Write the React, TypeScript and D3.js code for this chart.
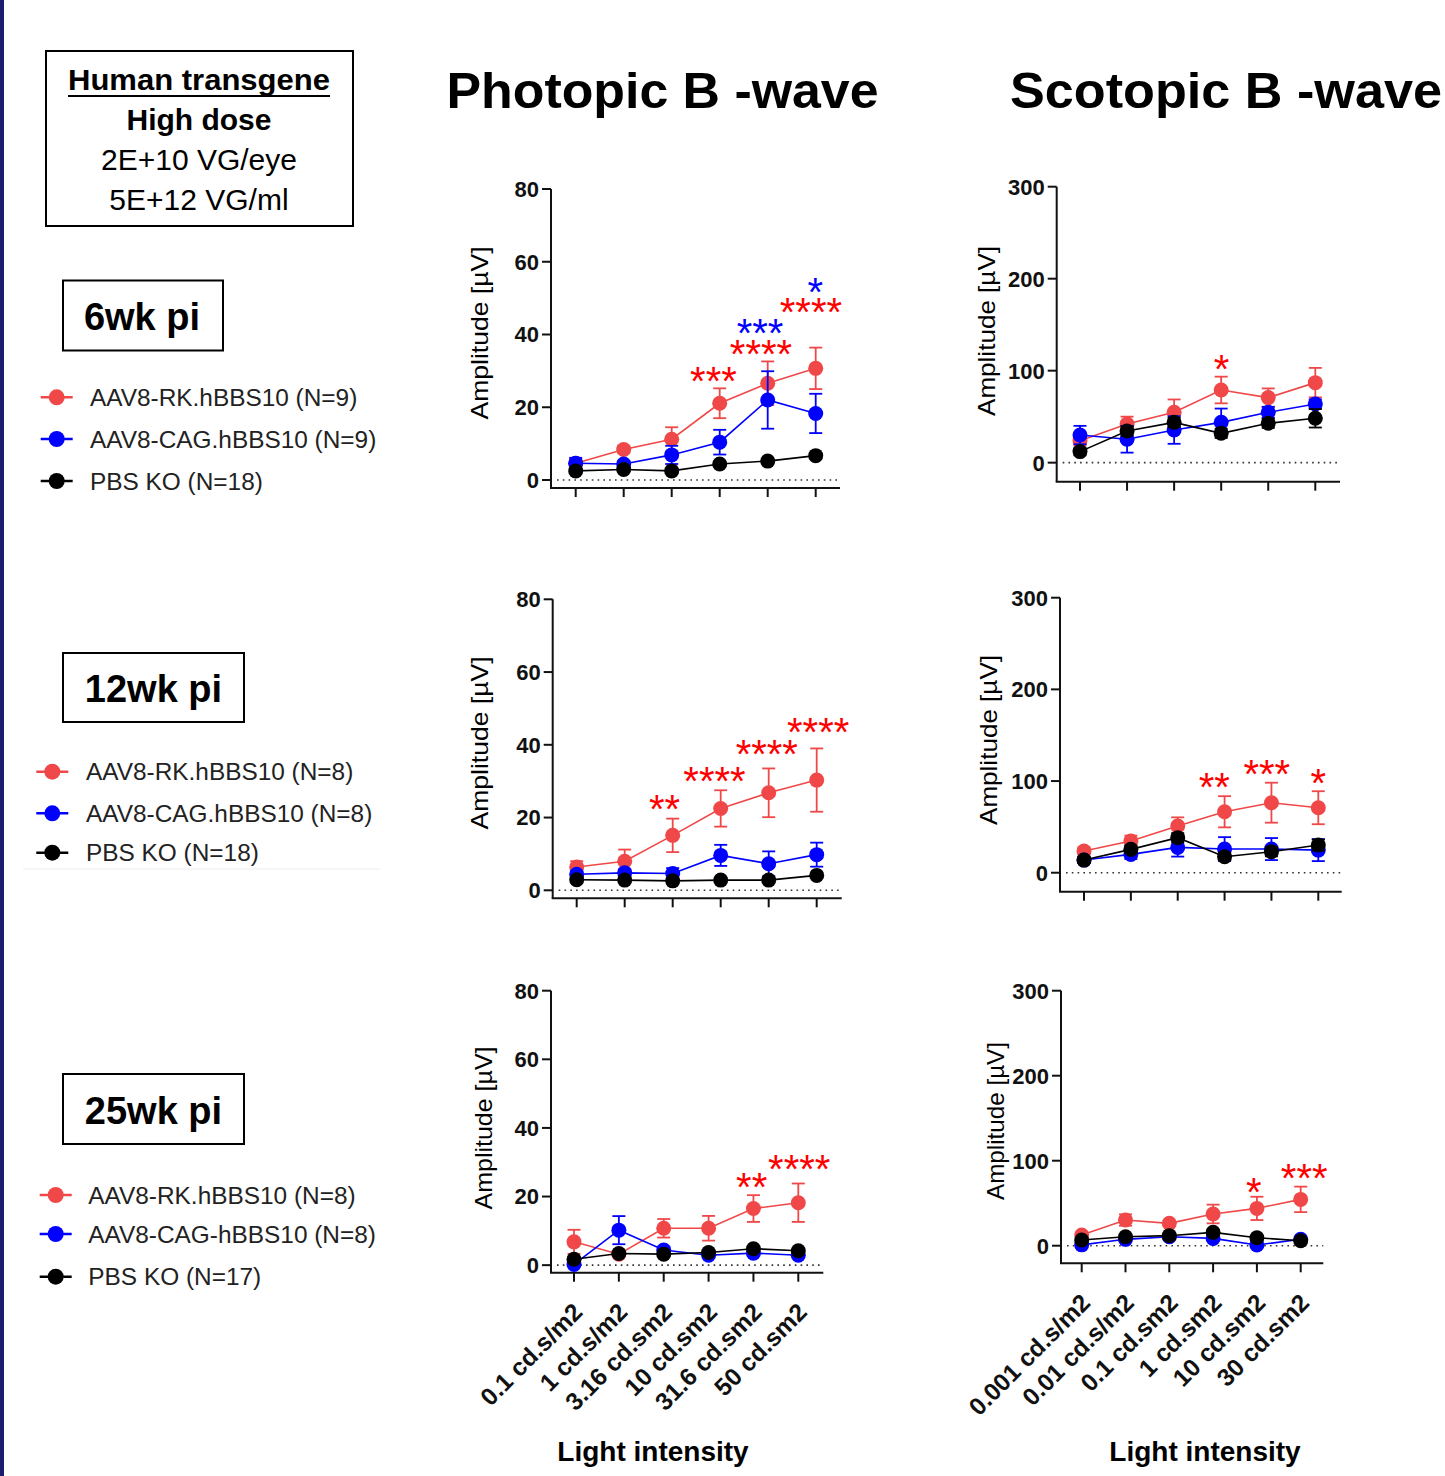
import React from 'react';
import * as d3 from 'd3';

// ---------- categories / ticks ----------
const photopicLabels = ['0.1 cd.s/m2', '1 cd.s/m2', '3.16 cd.sm2', '10 cd.sm2', '31.6 cd.sm2', '50 cd.sm2'];
const scotopicLabels = ['0.001 cd.s/m2', '0.01 cd.s/m2', '0.1 cd.sm2', '1 cd.sm2', '10 cd.sm2', '30 cd.sm2'];
const photopicTicks = [0, 20, 40, 60, 80];
const scotopicTicks = [0, 100, 200, 300];
const photopicDomain = [-2.2, 80];
const scotopicDomain = [-20.7, 300];

const legend6 = ['AAV8-RK.hBBS10 (N=9)', 'AAV8-CAG.hBBS10 (N=9)', 'PBS KO (N=18)'];
const legend12 = ['AAV8-RK.hBBS10 (N=8)', 'AAV8-CAG.hBBS10 (N=8)', 'PBS KO (N=18)'];
const legend25 = ['AAV8-RK.hBBS10 (N=8)', 'AAV8-CAG-hBBS10 (N=8)', 'PBS KO (N=17)'];

// ---------- 6wk ----------
const ph6Rk = [4.6, 8.4, 11.2, 21.1, 26.6, 30.7];
const ph6RkErr = [1.2, 1.0, 3.3, 4.1, 6.0, 5.7];
const ph6Cag = [4.6, 4.4, 6.9, 10.4, 22.0, 18.3];
const ph6CagErr = [1.5, 0.8, 2.5, 3.4, 7.9, 5.4];
const ph6Ko = [2.5, 2.9, 2.5, 4.4, 5.2, 6.7];
const ph6KoErr = [0.5, 0.5, 0.5, 0.5, 0.5, 0.6];

const sc6Rk = [23.9, 42, 54.7, 79, 70.7, 87];
const sc6RkErr = [5, 8, 14, 14.5, 10, 16];
const sc6Cag = [30, 25.4, 35.5, 43.8, 54.7, 63.8];
const sc6CagErr = [10, 14.5, 15, 15, 6, 5];
const sc6Ko = [12, 34.4, 43.8, 31.9, 42.8, 48.2];
const sc6KoErr = [4, 5, 5, 5, 5, 10];

// ---------- 12wk ----------
const ph12Rk = [6.4, 8.0, 15.1, 22.5, 26.8, 30.3];
const ph12RkErr = [1.6, 3.2, 4.6, 5.0, 6.7, 8.7];
const ph12Cag = [4.4, 4.8, 4.6, 9.6, 7.3, 9.8];
const ph12CagErr = [0.8, 1.0, 1.5, 2.9, 3.4, 3.3];
const ph12Ko = [2.9, 2.8, 2.6, 2.8, 2.8, 4.1];
const ph12KoErr = [0.4, 0.4, 0.4, 0.4, 0.4, 0.6];

const sc12Rk = [23.6, 34.5, 50.9, 66.5, 76.4, 70.9];
const sc12RkErr = [4, 6, 9.5, 17, 21.8, 18];
const sc12Cag = [13.8, 20, 27.6, 25.8, 25.8, 24.7];
const sc12CagErr = [3, 5, 10, 13, 12, 12];
const sc12Ko = [13.8, 25.5, 38.2, 17.5, 22.9, 30.2];
const sc12KoErr = [3, 4, 5, 4, 5, 6];

// ---------- 25wk ----------
const ph25Rk = [6.8, 3.2, 10.75, 10.75, 16.5, 18.2];
const ph25RkErr = [3.5, 0.6, 2.7, 3.6, 3.9, 5.6];
const ph25Cag = [0.2, 10.2, 4.4, 2.9, 3.5, 2.9];
const ph25CagErr = [0.5, 4.1, 1.0, 0.5, 0.5, 0.5];
const ph25Ko = [1.7, 3.4, 3.2, 3.7, 4.8, 4.2];
const ph25KoErr = [0.5, 0.4, 0.4, 0.5, 0.6, 0.5];

const sc25Rk = [12.5, 30.2, 26.3, 37.3, 43.9, 54.5];
const sc25RkErr = [3, 6.7, 3, 11, 13.7, 15];
const sc25Cag = [1, 7.5, 10.6, 8.6, 0.8, 7.5];
const sc25CagErr = [1, 2, 2, 2, 1, 2];
const sc25Ko = [6.7, 10.6, 11.8, 15.7, 9.4, 5.9];
const sc25KoErr = [2, 2, 2, 3, 2, 2];

// ---------- significance annotations (category index, amplitude) ----------
const ph6Stars = [
  { text: '***', group: 'rk', at: 2.87, value: 29.8 },
  { text: '****', group: 'rk', at: 3.86, value: 37.1 },
  { text: '***', group: 'cag', at: 3.84, value: 42.9 },
  { text: '****', group: 'rk', at: 4.9, value: 48.7 },
  { text: '*', group: 'cag', at: 4.99, value: 54.2 },
];
const sc6Stars = [{ text: '*', group: 'rk', at: 3.01, value: 111.6 }];
const ph12Stars = [
  { text: '**', group: 'rk', at: 1.83, value: 24.8 },
  { text: '****', group: 'rk', at: 2.87, value: 32.6 },
  { text: '****', group: 'rk', at: 3.96, value: 39.9 },
  { text: '****', group: 'rk', at: 5.03, value: 46.1 },
];
const sc12Stars = [
  { text: '**', group: 'rk', at: 2.78, value: 103 },
  { text: '***', group: 'rk', at: 3.9, value: 117.5 },
  { text: '*', group: 'rk', at: 5.0, value: 107.3 },
];
const ph25Stars = [
  { text: '**', group: 'rk', at: 3.96, value: 25.5 },
  { text: '****', group: 'rk', at: 5.02, value: 30.6 },
];
const sc25Stars = [
  { text: '*', group: 'rk', at: 3.93, value: 73.4 },
  { text: '***', group: 'rk', at: 5.08, value: 89.9 },
];

// ---------- styles ----------
const FONT = 'Liberation Sans, Arial, Helvetica, sans-serif';
const COLORS = { rk: '#f04848', cag: '#0000ff', ko: '#000000' };
const STAR_COLORS = { rk: '#ff0000', cag: '#0000ff' };

type Series = { key: 'rk' | 'cag' | 'ko'; values: number[]; errors: number[] };
type Star = { text: string; group: string; at: number; value: number };

type Frame = {
  axisX: number; yTop: number; yBot: number; xFirst: number; xLast: number; xEnd: number;
  labelX: number; labelY: number; labelLen: number;
};

function Panel({ frame, domain, ticks, series, stars, labels }: {
  frame: Frame; domain: number[]; ticks: number[]; series: Series[]; stars: Star[]; labels?: string[];
}) {
  const y = d3.scaleLinear().domain(domain).range([frame.yBot, frame.yTop]);
  const x = d3.scaleLinear().domain([0, 5]).range([frame.xFirst, frame.xLast]);
  const idx = d3.range(6);
  const line = d3.line<number>().x((_, i) => x(i)).y((d) => y(d));
  return (
    <g fontFamily={FONT}>
      {/* zero dotted line */}
      <line x1={frame.axisX + 6} x2={frame.xEnd} y1={y(0)} y2={y(0)} stroke="#333" strokeWidth={1.6} strokeDasharray="1.6,4.2" />
      {/* y axis */}
      <line x1={frame.axisX} x2={frame.axisX} y1={frame.yTop} y2={frame.yBot} stroke="#111" strokeWidth={2} />
      {ticks.map((t) => (
        <g key={t}>
          <line x1={frame.axisX - 9} x2={frame.axisX} y1={y(t)} y2={y(t)} stroke="#111" strokeWidth={2} />
          <text x={frame.axisX - 12} y={y(t)} dy="0.36em" textAnchor="end" fontSize={22} fontWeight="bold" fill="#111">{t}</text>
        </g>
      ))}
      {/* x axis */}
      <line x1={frame.axisX - 1} x2={frame.xEnd} y1={frame.yBot} y2={frame.yBot} stroke="#111" strokeWidth={2} />
      {idx.map((i) => (
        <line key={i} x1={x(i)} x2={x(i)} y1={frame.yBot} y2={frame.yBot + 9} stroke="#111" strokeWidth={2} />
      ))}
      {labels && labels.map((l, i) => (
        <text key={l} transform={`translate(${x(i) + 4},${frame.yBot + 35}) rotate(-45)`} textAnchor="end"
          dominantBaseline="central" fontSize={24.5} fontWeight="bold" fill="#111">{l}</text>
      ))}
      {/* y label */}
      <text transform={`translate(${frame.labelX + 7},${frame.labelY}) rotate(-90)`} textAnchor="middle"
        fontSize={24} fill="#000" textLength={frame.labelLen} lengthAdjust="spacingAndGlyphs">Amplitude [µV]</text>
      {/* series */}
      {series.map((s) => (
        <g key={s.key}>
          <path d={line(s.values) || ''} fill="none" stroke={COLORS[s.key]} strokeWidth={1.6} />
          {s.values.map((v, i) => {
            const e = s.errors[i];
            return (
              <g key={i} stroke={COLORS[s.key]} strokeWidth={1.8}>
                <line x1={x(i)} x2={x(i)} y1={y(v - e)} y2={y(v + e)} />
                <line x1={x(i) - 6.5} x2={x(i) + 6.5} y1={y(v + e)} y2={y(v + e)} />
                <line x1={x(i) - 6.5} x2={x(i) + 6.5} y1={y(v - e)} y2={y(v - e)} />
              </g>
            );
          })}
          {s.values.map((v, i) => (
            <circle key={'c' + i} cx={x(i)} cy={y(v)} r={7.5} fill={COLORS[s.key]} />
          ))}
        </g>
      ))}
      {/* stars */}
      {stars.map((s, i) => (
        <text key={i} x={x(s.at)} y={y(s.value) + 23} textAnchor="middle" fontSize={40}
          fill={STAR_COLORS[s.group as 'rk' | 'cag']}>{s.text}</text>
      ))}
    </g>
  );
}

function Legend({ labels, mx, tx, rows }: { labels: string[]; mx: number; tx: number; rows: number[] }) {
  const keys: ('rk' | 'cag' | 'ko')[] = ['rk', 'cag', 'ko'];
  return (
    <g fontFamily={FONT}>
      {labels.map((l, i) => (
        <g key={l}>
          <line x1={mx - 16} x2={mx + 16} y1={rows[i]} y2={rows[i]} stroke={COLORS[keys[i]]} strokeWidth={2.5} />
          <circle cx={mx} cy={rows[i]} r={8} fill={COLORS[keys[i]]} />
          <text x={tx} y={rows[i]} dy="0.36em" fontSize={24.4} fill="#222">{l}</text>
        </g>
      ))}
    </g>
  );
}

function mk(rk: number[], rkE: number[], cag: number[], cagE: number[], ko: number[], koE: number[]): Series[] {
  return [
    { key: 'rk', values: rk, errors: rkE },
    { key: 'cag', values: cag, errors: cagE },
    { key: 'ko', values: ko, errors: koE },
  ];
}

export default function App() {
  return (
    <div style={{ position: 'absolute', left: 0, top: 0 }}>
      <svg width={1445} height={1476} viewBox="0 0 1445 1476" style={{ display: 'block', background: '#fff' }}>
        <rect x={0} y={0} width={1445} height={1476} fill="#fff" />
        <rect x={0} y={0} width={4} height={1476} fill="#1c1c6c" />

        {/* header box */}
        <g fontFamily={FONT} fill="#000">
          <rect x={46} y={51} width={307} height={175} fill="none" stroke="#000" strokeWidth={2} />
          <text x={199} y={90} textAnchor="middle" fontSize={30} fontWeight="bold" textLength={262} lengthAdjust="spacingAndGlyphs">Human transgene</text>
          <line x1={68} x2={330} y1={96} y2={96} stroke="#000" strokeWidth={2} />
          <text x={199} y={129.5} textAnchor="middle" fontSize={30} fontWeight="bold">High dose</text>
          <text x={199} y={169.5} textAnchor="middle" fontSize={30}>2E+10 VG/eye</text>
          <text x={199} y={209.5} textAnchor="middle" fontSize={30}>5E+12 VG/ml</text>

          <rect x={63} y={280.5} width={160} height={70} fill="none" stroke="#000" strokeWidth={2} />
          <text x={142} y={330} textAnchor="middle" fontSize={38} fontWeight="bold">6wk pi</text>

          <rect x={63} y={653} width={181} height={69} fill="none" stroke="#000" strokeWidth={2} />
          <text x={153.5} y={701.5} textAnchor="middle" fontSize={38} fontWeight="bold">12wk pi</text>

          <rect x={63} y={1074} width={181} height={70} fill="none" stroke="#000" strokeWidth={2} />
          <text x={153.5} y={1123.5} textAnchor="middle" fontSize={38} fontWeight="bold">25wk pi</text>
        </g>

        <Legend labels={legend6} mx={56.7} tx={90} rows={[397.3, 439, 481]} />
        <Legend labels={legend12} mx={52.3} tx={86} rows={[771.7, 813.3, 852.7]} />
        <line x1={23} x2={380} y1={869} y2={869} stroke="#eeeeee" strokeWidth={1} />
        <Legend labels={legend25} mx={55.7} tx={88.3} rows={[1195, 1234, 1276.7]} />

        {/* titles */}
        <g fontFamily={FONT} fontWeight="bold" fill="#000">
          <text x={662.5} y={108} textAnchor="middle" fontSize={50} textLength={432} lengthAdjust="spacingAndGlyphs">Photopic B -wave</text>
          <text x={1226} y={108} textAnchor="middle" fontSize={50} textLength={432} lengthAdjust="spacingAndGlyphs">Scotopic B -wave</text>
          <text x={653} y={1461} textAnchor="middle" fontSize={28}>Light intensity</text>
          <text x={1205} y={1461} textAnchor="middle" fontSize={28}>Light intensity</text>
        </g>

        <Panel frame={{ axisX: 551, yTop: 189, yBot: 488, xFirst: 575.7, xLast: 815.7, xEnd: 840, labelX: 480.7, labelY: 333, labelLen: 173 }}
          domain={photopicDomain} ticks={photopicTicks}
          series={mk(ph6Rk, ph6RkErr, ph6Cag, ph6CagErr, ph6Ko, ph6KoErr)} stars={ph6Stars} />
        <Panel frame={{ axisX: 1056.7, yTop: 186.7, yBot: 481.7, xFirst: 1080, xLast: 1315.3, xEnd: 1340, labelX: 988, labelY: 331, labelLen: 170 }}
          domain={scotopicDomain} ticks={scotopicTicks}
          series={mk(sc6Rk, sc6RkErr, sc6Cag, sc6CagErr, sc6Ko, sc6KoErr)} stars={sc6Stars} />
        <Panel frame={{ axisX: 552.7, yTop: 599.3, yBot: 898.3, xFirst: 576.7, xLast: 816.7, xEnd: 841.7, labelX: 480.7, labelY: 743, labelLen: 173 }}
          domain={photopicDomain} ticks={photopicTicks}
          series={mk(ph12Rk, ph12RkErr, ph12Cag, ph12CagErr, ph12Ko, ph12KoErr)} stars={ph12Stars} />
        <Panel frame={{ axisX: 1060, yTop: 597.7, yBot: 891.7, xFirst: 1084, xLast: 1318.3, xEnd: 1341.7, labelX: 990, labelY: 740, labelLen: 170 }}
          domain={scotopicDomain} ticks={scotopicTicks}
          series={mk(sc12Rk, sc12RkErr, sc12Cag, sc12CagErr, sc12Ko, sc12KoErr)} stars={sc12Stars} />
        <Panel frame={{ axisX: 551, yTop: 990.7, yBot: 1272.7, xFirst: 574, xLast: 798.3, xEnd: 823.3, labelX: 485, labelY: 1128, labelLen: 163 }}
          domain={photopicDomain} ticks={photopicTicks}
          series={mk(ph25Rk, ph25RkErr, ph25Cag, ph25CagErr, ph25Ko, ph25KoErr)} stars={ph25Stars} labels={photopicLabels} />
        <Panel frame={{ axisX: 1061, yTop: 990.7, yBot: 1263.3, xFirst: 1081.7, xLast: 1300.7, xEnd: 1323.3, labelX: 996.7, labelY: 1121, labelLen: 158 }}
          domain={scotopicDomain} ticks={scotopicTicks}
          series={mk(sc25Rk, sc25RkErr, sc25Cag, sc25CagErr, sc25Ko, sc25KoErr)} stars={sc25Stars} labels={scotopicLabels} />
      </svg>
    </div>
  );
}
